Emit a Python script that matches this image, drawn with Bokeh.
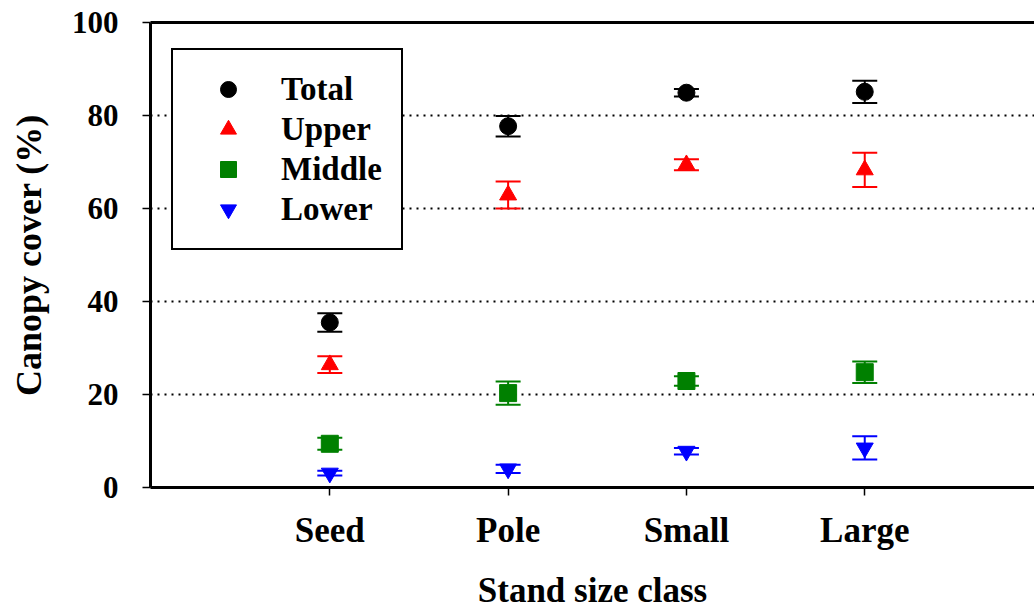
from bokeh.plotting import figure
from bokeh.models import (ColumnDataSource, Whisker, TeeHead, Legend, LegendItem,
                          FixedTicker, LinearAxis, Range1d)
from bokeh.embed import file_html
from bokeh.resources import INLINE

categories = ["Seed", "Pole", "Small", "Large"]
series = ["Total", "Upper", "Middle", "Lower"]
total_mean = [35.5, 77.7, 84.9, 85.1]
total_err = [2.0, 2.2, 0.8, 2.4]
upper_mean = [26.4, 62.9, 69.4, 68.3]
upper_err = [1.8, 2.9, 1.2, 3.7]
middle_mean = [9.4, 20.3, 22.9, 24.8]
middle_err = [1.3, 2.5, 1.0, 2.3]
lower_mean = [3.1, 4.0, 7.8, 8.5]
lower_err = [0.5, 0.9, 0.7, 2.5]
y_ticks = [0, 20, 40, 60, 80, 100]

means = [total_mean, upper_mean, middle_mean, lower_mean]
errs = [total_err, upper_err, middle_err, lower_err]
colors = ["black", "#FF0000", "#008000", "#0000FF"]
markers = ["circle", "triangle", "square", "inverted_triangle"]

FONT = "Liberation Serif"
xs = [i + 1 for i in range(len(categories))]

p = figure(width=1034, height=612, x_range=Range1d(-0.0056, 4.952), y_range=Range1d(0, 100),
           output_backend="svg", toolbar_location=None, title=None,
           min_border_left=150, min_border_right=0, min_border_top=22, min_border_bottom=125,
           outline_line_color=None, background_fill_color="white", border_fill_color="white")

# grid
p.xgrid.grid_line_color = None
p.ygrid.ticker = FixedTicker(ticks=y_ticks)
p.ygrid.grid_line_color = "black"
p.ygrid.grid_line_dash = "2 5"
p.ygrid.grid_line_width = 2

# y axis
ya = p.left[0]
ya.ticker = FixedTicker(ticks=y_ticks)
ya.axis_line_width = 3
ya.major_tick_out = 8
ya.major_tick_in = 0
ya.major_tick_line_width = 1.5
ya.minor_tick_line_color = None
ya.major_label_text_font = FONT
ya.major_label_text_font_style = "bold"
ya.major_label_text_font_size = "31px"
ya.major_label_text_color = "black"
ya.major_label_standoff = 24
ya.axis_label = "Canopy cover (%)"
ya.axis_label_text_font = FONT
ya.axis_label_text_font_style = "bold"
ya.axis_label_text_font_size = "36px"
ya.axis_label_text_color = "black"
ya.axis_label_standoff = 20

# x axis
xa = p.below[0]
xa.ticker = FixedTicker(ticks=xs)
xa.major_label_overrides = {x: c for x, c in zip(xs, categories)}
xa.axis_line_width = 3
xa.major_tick_out = 8
xa.major_tick_in = 0
xa.major_tick_line_width = 1.5
xa.minor_tick_line_color = None
xa.major_label_text_font = FONT
xa.major_label_text_font_style = "bold"
xa.major_label_text_font_size = "35px"
xa.major_label_text_color = "black"
xa.major_label_standoff = 15
xa.axis_label = "Stand size class"
xa.axis_label_text_font = FONT
xa.axis_label_text_font_style = "bold"
xa.axis_label_text_font_size = "35px"
xa.axis_label_text_color = "black"
xa.axis_label_standoff = 18

# top spine
top = LinearAxis(ticker=FixedTicker(ticks=[]), major_label_text_font_size="0px",
                 axis_line_width=3, axis_line_color="black",
                 major_tick_line_color=None, minor_tick_line_color=None)
p.add_layout(top, "above")

items = []
for name, m, e, c, mk in zip(series, means, errs, colors, markers):
    src = ColumnDataSource(dict(
        x=xs, y=m,
        upper=[a + b for a, b in zip(m, e)],
        lower=[a - b for a, b in zip(m, e)],
    ))
    w = Whisker(source=src, base="x", upper="upper", lower="lower",
                line_color=c, line_width=2,
                upper_head=TeeHead(size=25, line_color=c, line_width=2),
                lower_head=TeeHead(size=25, line_color=c, line_width=2))
    p.add_layout(w)
    r = p.scatter("x", "y", source=src, marker=mk, size=17, fill_color=c, line_color=c)
    items.append(LegendItem(label=name, renderers=[r]))

legend = Legend(items=items, location=(21, 237),
                label_text_font=FONT, label_text_font_style="bold",
                label_text_font_size="33px", label_text_color="black",
                glyph_width=72, glyph_height=40, label_height=40, label_standoff=17,
                padding=19, spacing=0, margin=0,
                border_line_color="black", border_line_width=2, border_line_alpha=1,
                background_fill_color="white", background_fill_alpha=1)
p.add_layout(legend)

open("out.html", "w").write(file_html(p, INLINE))
